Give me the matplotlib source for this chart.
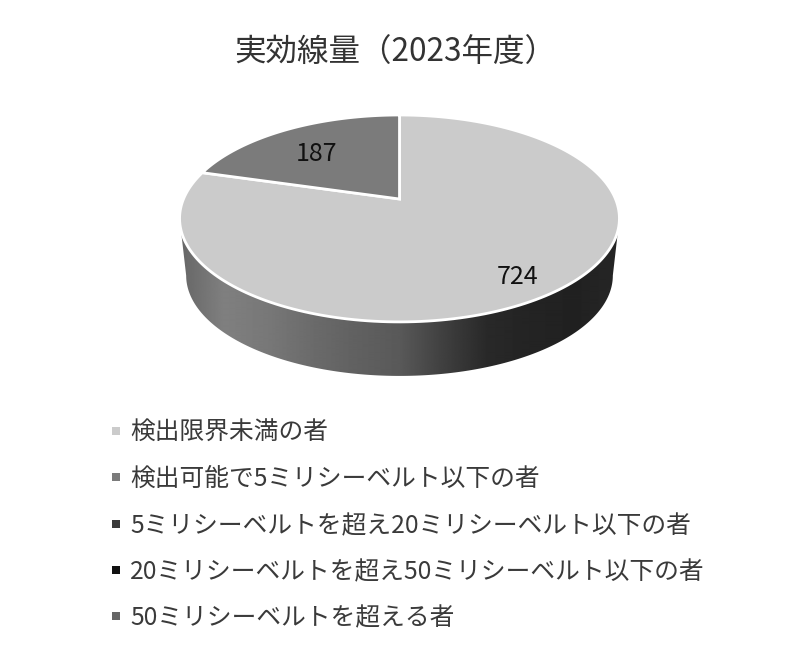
import numpy as np
import matplotlib
matplotlib.use("Agg")
import matplotlib.pyplot as plt
from matplotlib.patches import Polygon

plt.rcParams['font.family'] = ['Noto Sans CJK JP', 'DejaVu Sans']

# -------------------------------
# Chart data
# -------------------------------
title = "実効線量（2023年度）"
values = [724, 187, 0, 0, 0]
labels = [
    "検出限界未満の者",
    "検出可能で5ミリシーベルト以下の者",
    "5ミリシーベルトを超え20ミリシーベルト以下の者",
    "20ミリシーベルトを超え50ミリシーベルト以下の者",
    "50ミリシーベルトを超える者",
]
colors = ["#cbcbcb", "#7b7b7b", "#3a3a3a", "#111111", "#666666"]
side_grays = [0.40, 0.50, 0.47, 0.42, 0.38, 0.35, 0.25, 0.16, 0.14, 0.13, 0.15]

# -------------------------------
# Tilted pie projection (unit circle -> canvas pixels)
# -------------------------------
CX, CY = 399.5, 199
RX, RY, K = 216, 99.8, 0.188

def project(u, v, scale=1.0, dy=0.0):
    w = 1 + K * v
    return CX + scale * RX * u / w, CY + scale * RY * v * -1 / w + dy

def wedge_points(a0, a1):
    a = np.linspace(a0, a1, 200)
    x, y = project(np.sin(a), np.cos(a))
    return np.column_stack([np.r_[CX, x], np.r_[CY, y]])

fig = plt.figure(figsize=(8, 6.56), dpi=100)
ax = fig.add_axes([0, 0, 1, 1])
ax.axis("off")

# -------------------------------
# Side wall, gradient clipped to the front rim
# -------------------------------
phi = np.linspace(np.pi + np.arcsin(K), 2 * np.pi - np.arcsin(K), 300)
tx, ty = project(np.cos(phi), np.sin(phi))
bx, by = project(np.cos(phi), np.sin(phi), scale=0.97, dy=57.7)
side = Polygon(np.column_stack([np.r_[tx, bx[::-1]], np.r_[ty, by[::-1]]]),
               closed=True, fc="none", ec="none")
ax.add_patch(side)
grad = np.interp(np.linspace(0, 1, 440), np.linspace(0, 1, len(side_grays)), side_grays)
img = ax.imshow(grad[np.newaxis, :], cmap="gray", vmin=0, vmax=1, aspect="auto",
                extent=(180, 620, 380, 200), interpolation="bilinear")
img.set_clip_path(side)
ax.set_xlim(0, 800)
ax.set_ylim(656, 0)

# -------------------------------
# Top face: slices run clockwise from 12 o'clock
# -------------------------------
angles = 2 * np.pi * np.cumsum([0] + values) / sum(values)
for i, val in enumerate(values):
    if val > 0:
        ax.add_patch(Polygon(wedge_points(angles[i], angles[i + 1]), closed=True,
                             fc=colors[i], ec="white", lw=2.0, joinstyle="miter"))

# Value labels
label_pos = [(518, 277), (316, 154)]
for (lx, ly), val in zip(label_pos, values[:2]):
    ax.text(lx, ly, str(val), ha="center", va="center", fontsize=18, color="#111111")

ax.text(234, 53, title, ha="left", va="center", fontsize=22.7, color="#333333")

# -------------------------------
# Legend
# -------------------------------
legend_y = [431, 477, 524, 570, 616]
for y, name, c in zip(legend_y, labels, colors):
    ax.scatter([116], [y], s=28, marker="s", color=c, linewidths=0)
    ax.text(130, y + 2, name, ha="left", va="center", fontsize=17.8, color="#3a3a3a")

fig.savefig("out.png", dpi=100)
